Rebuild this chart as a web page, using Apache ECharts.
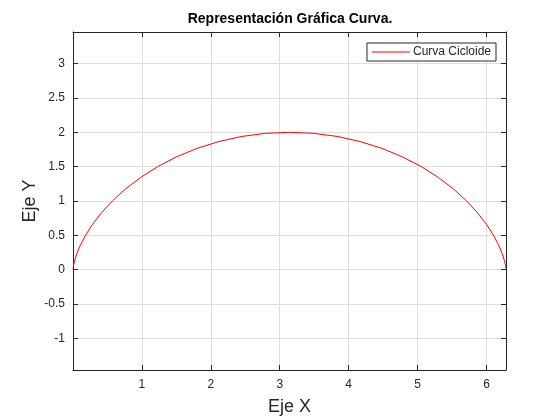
<!DOCTYPE html>
<html>
<head>
<meta charset="utf-8">
<script src="https://cdn.jsdelivr.net/npm/echarts@6/dist/echarts.min.js"></script>
<style>html,body{margin:0;padding:0;background:#fff;}#c{width:560px;height:420px;}</style>
</head>
<body>
<div id="c"></div>
<script>
// Points (Curva Cicloide)
const curveX = [0, 0.001, 0.007, 0.024, 0.055, 0.107, 0.181, 0.282, 0.411, 0.571, 0.761, 0.980, 1.228, 1.503, 1.801, 2.118, 2.451, 2.793, 3.142, 3.490, 3.833, 4.165, 4.483, 4.780, 5.055, 5.303, 5.523, 5.712, 5.872, 6.001, 6.102, 6.177, 6.228, 6.260, 6.276, 6.282, 6.283];
const curveY = [0, 0.015, 0.060, 0.134, 0.234, 0.357, 0.500, 0.658, 0.826, 1.000, 1.174, 1.342, 1.500, 1.643, 1.766, 1.866, 1.940, 1.985, 2.000, 1.985, 1.940, 1.866, 1.766, 1.643, 1.500, 1.342, 1.174, 1.000, 0.826, 0.658, 0.500, 0.357, 0.234, 0.134, 0.060, 0.015, 0];
const seriesName = 'Curva Cicloide';
const titleText = 'Representación Gráfica Curva.';
const xName = 'Eje X';
const yName = 'Eje Y';

const FONT = '"Liberation Sans", Arial, Helvetica, sans-serif';
const TXT = '#262626';
const XMIN = 0, XMAX = 6.283185, YMIN = -1.46, YMAX = 3.46;

function xFmt(v){ return (v > 0.01 && Math.abs(v - Math.round(v)) < 1e-6) ? String(Math.round(v)) : ''; }
function yFmt(v){
  const r = Math.round(v * 2) / 2;
  if (Math.abs(v - r) > 1e-6 || v < YMIN + 0.01 || v > YMAX - 0.01) return '';
  return String(r);
}

const chart = echarts.init(document.getElementById('c'), null, {renderer: 'canvas'});
chart.setOption({
  animation: false,
  backgroundColor: '#ffffff',
  textStyle: {fontFamily: FONT},
  title: {
    text: titleText, left: 290, top: 12, textAlign: 'center', padding: 0,
    textStyle: {fontFamily: FONT, fontSize: 14, fontWeight: 'bold', color: '#000'}
  },
  legend: {
    right: 64, top: 43, padding: [3, 5, 3, 5],
    borderColor: TXT, borderWidth: 1, backgroundColor: '#fff',
    itemWidth: 38, itemHeight: 1, itemGap: 0,
    icon: 'rect',
    textStyle: {fontFamily: FONT, fontSize: 12, color: TXT, padding: [0, 0, 0, -2]},
    data: [{name: seriesName}]
  },
  grid: {left: 73, right: 54, top: 32, bottom: 50, containLabel: false, outerBoundsMode: 'none'},
  xAxis: [{
    type: 'value', min: XMIN, max: XMAX, minInterval: 1, maxInterval: 1, splitNumber: 7,
    name: xName, nameLocation: 'middle', nameGap: 28, nameMoveOverlap: false,
    nameTextStyle: {fontFamily: FONT, fontSize: 18, color: TXT},
    axisLine: {show: true, onZero: false, lineStyle: {color: TXT, width: 1}},
    axisTick: {show: true, inside: true, length: 5, lineStyle: {color: TXT}},
    axisLabel: {formatter: xFmt, fontFamily: FONT, fontSize: 12, color: TXT, margin: 9, showMinLabel: false, showMaxLabel: false},
    splitLine: {show: true, lineStyle: {color: '#dedede', width: 1}}
  }, {
    type: 'value', position: 'top', min: XMIN, max: XMAX, minInterval: 1, maxInterval: 1, splitNumber: 7,
    axisLine: {show: true, onZero: false, lineStyle: {color: TXT, width: 1}},
    axisTick: {show: true, inside: true, length: 5, lineStyle: {color: TXT}},
    axisLabel: {show: false},
    splitLine: {show: false}
  }],
  yAxis: [{
    type: 'value', min: YMIN, max: YMAX, minInterval: 0.5, maxInterval: 0.5, splitNumber: 10,
    name: yName, nameLocation: 'middle', nameGap: 34, nameMoveOverlap: false,
    nameTextStyle: {fontFamily: FONT, fontSize: 18, color: TXT},
    axisLine: {show: true, onZero: false, lineStyle: {color: TXT, width: 1}},
    axisTick: {show: true, inside: true, length: 5, lineStyle: {color: TXT}},
    axisLabel: {formatter: yFmt, fontFamily: FONT, fontSize: 12, color: TXT, margin: 8, showMinLabel: false, showMaxLabel: false},
    splitLine: {show: true, lineStyle: {color: '#dedede', width: 1}}
  }, {
    type: 'value', position: 'right', min: YMIN, max: YMAX, minInterval: 0.5, maxInterval: 0.5, splitNumber: 10,
    axisLine: {show: true, onZero: false, lineStyle: {color: TXT, width: 1}},
    axisTick: {show: true, inside: true, length: 5, lineStyle: {color: TXT}},
    axisLabel: {show: false},
    splitLine: {show: false}
  }],
  series: [{
    name: seriesName, type: 'line', xAxisIndex: 0, yAxisIndex: 0,
    showSymbol: false, symbol: 'none', smooth: false,
    lineStyle: {color: '#ff0000', width: 1}, itemStyle: {color: '#ff0000'},
    data: curveX.map((x, i) => [x, curveY[i]])
  }]
});
</script>
</body>
</html>
